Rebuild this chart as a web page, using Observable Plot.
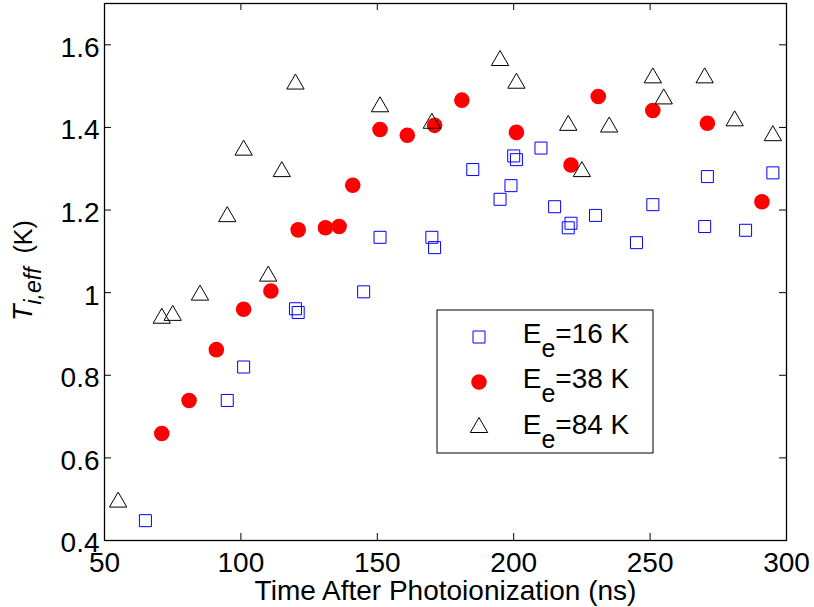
<!DOCTYPE html>
<html>
<head>
<meta charset="utf-8">
<script src="https://cdn.jsdelivr.net/npm/d3@7"></script>
<script src="https://cdn.jsdelivr.net/npm/@observablehq/plot@0.6"></script>
<style>
  html, body { margin: 0; padding: 0; background: #fff; }
  #chart { width: 814px; height: 607px; position: relative; }
</style>
</head>
<body>
<div id="chart"></div>
<script>
// ---- data ----
const sqX = [65, 95, 101, 120, 121, 145, 151, 170, 171, 185, 195, 199, 200, 201, 210, 215, 220, 221, 230, 245, 251, 270, 271, 285, 295];
const sqY = [0.448, 0.739, 0.820, 0.961, 0.952, 1.002, 1.134, 1.134, 1.109, 1.298, 1.226, 1.259, 1.331, 1.322, 1.350, 1.208, 1.157, 1.168, 1.187, 1.121, 1.213, 1.160, 1.281, 1.151, 1.290];

const ciX = [71, 81, 91, 101, 111, 121, 131, 136, 141, 151, 161, 171, 181, 201, 221, 231, 251, 271, 291];
const ciY = [0.659, 0.739, 0.862, 0.960, 1.004, 1.152, 1.157, 1.160, 1.260, 1.395, 1.381, 1.405, 1.466, 1.388, 1.309, 1.475, 1.441, 1.410, 1.220];

const trX = [55, 71, 75, 85, 95, 101, 110, 115, 120, 151, 170, 195, 201, 220, 225, 235, 251, 255, 270, 281, 295];
const trY = [0.493, 0.938, 0.945, 0.994, 1.184, 1.345, 1.040, 1.293, 1.505, 1.450, 1.410, 1.562, 1.507, 1.405, 1.293, 1.401, 1.520, 1.469, 1.520, 1.416, 1.380];

const seriesNames = ["16 K", "38 K", "84 K"];
const xTicks = [50, 100, 150, 200, 250, 300];
const yTicks = [0.4, 0.6, 0.8, 1, 1.2, 1.4, 1.6];
const xLabel = "Time After Photoionization (ns)";

const toRows = (xs, ys) => xs.map((x, i) => ({x, y: ys[i]}));
const sq = toRows(sqX, sqY), ci = toRows(ciX, ciY), tr = toRows(trX, trY);

const W = 814, H = 607;
const mL = 104, mR = 28, mT = 3, mB = 67;
const innerH = H - mT - mB;
const tickLen = 7;
const font = "'Liberation Sans', Arial, Helvetica, sans-serif";

const aSq = 144, aTr = 129.9;
const rSq = Math.sqrt(aSq / Math.PI);
const rTr = Math.sqrt(aTr / Math.PI);
const rCi = 7.8;

const plot = Plot.plot({
  width: W, height: H,
  marginLeft: mL, marginRight: mR, marginTop: mT, marginBottom: mB,
  style: {fontFamily: font, fontSize: "28px", background: "#fff", color: "#000"},
  x: {domain: [50, 300], ticks: xTicks, label: null},
  y: {domain: [0.4, 1.7], ticks: yTicks, label: null},
  marks: [
    Plot.axisX({ticks: xTicks, tickSize: 0, tickPadding: 12, tickFormat: d => String(d), label: null, fontSize: 28}),
    Plot.axisY({ticks: yTicks, tickSize: 0, tickPadding: 5, tickFormat: d => String(d), label: null, fontSize: 28, dy: 3}),
    // inward ticks, bottom and top
    Plot.tickX(xTicks.slice(1, -1), {x: d => d, insetTop: innerH - tickLen, stroke: "#000", strokeWidth: 1}),
    Plot.tickX(xTicks.slice(1, -1), {x: d => d, insetBottom: innerH - tickLen, stroke: "#000", strokeWidth: 1}),
    // inward ticks, left and right
    Plot.tickY(yTicks, {y: d => d, insetRight: (W - mL - mR) - tickLen, stroke: "#000", strokeWidth: 1}),
    Plot.tickY(yTicks, {y: d => d, insetLeft: (W - mL - mR) - tickLen, stroke: "#000", strokeWidth: 1}),
    Plot.dot(sq, {x: "x", y: "y", symbol: "square", r: rSq, stroke: "#0000ff", fill: "none", strokeWidth: 1}),
    Plot.dot(ci, {x: "x", y: "y", symbol: "circle", r: rCi, fill: "#ff0000", stroke: "none"}),
    Plot.dot(tr, {x: "x", y: "y", symbol: "triangle", r: rTr, stroke: "#000", fill: "none", strokeWidth: 1}),
    Plot.frame({stroke: "#000", strokeWidth: 1.3}),
    Plot.text([xLabel], {text: d => d, frameAnchor: "bottom", lineAnchor: "bottom", dy: 59, fontSize: 28, fill: "#000"})
  ]
});

document.getElementById("chart").appendChild(plot);

const svg = d3.select(plot);

// y-axis label: T_{i,eff}  (K)
const yl = svg.append("text")
  .attr("transform", "translate(32,321) rotate(-90)")
  .attr("text-anchor", "start")
  .style("text-anchor", "start")
  .style("font-family", font)
  .attr("fill", "#000");
yl.append("tspan").text("T").style("font-style", "italic").style("font-size", "27px");
yl.append("tspan").text("i,eff").style("font-style", "italic").style("font-size", "23px").attr("dy", 9);
yl.append("tspan").text("\u00a0\u00a0(K)").style("font-size", "25px").attr("dy", -9);

// legend
const lg = svg.append("g");
lg.append("rect").attr("x", 437).attr("y", 310).attr("width", 216).attr("height", 143)
  .attr("fill", "#fff").attr("stroke", "#000").attr("stroke-width", 1);
const rowsY = [337, 382, 427.5];
const symbols = [
  {type: d3.symbolSquare, size: aSq, stroke: "#0000ff", fill: "none"},
  {type: d3.symbolCircle, size: Math.PI * rCi * rCi, stroke: "none", fill: "#ff0000"},
  {type: d3.symbolTriangle, size: aTr, stroke: "#000", fill: "none"}
];
seriesNames.forEach((name, i) => {
  const s = symbols[i];
  lg.append("path")
    .attr("d", d3.symbol(s.type, s.size)())
    .attr("transform", `translate(479,${rowsY[i]})`)
    .attr("fill", s.fill).attr("stroke", s.stroke).attr("stroke-width", 1);
  const t = lg.append("text").attr("x", 522.7).attr("y", rowsY[i] + 6)
    .attr("text-anchor", "start").style("text-anchor", "start")
    .style("font-family", font).style("font-size", "28px").attr("fill", "#000");
  t.append("tspan").text("E");
  t.append("tspan").text("e").style("font-size", "25px").attr("dy", 14);
  t.append("tspan").text("=" + name).attr("dy", -14);
});
</script>
</body>
</html>
